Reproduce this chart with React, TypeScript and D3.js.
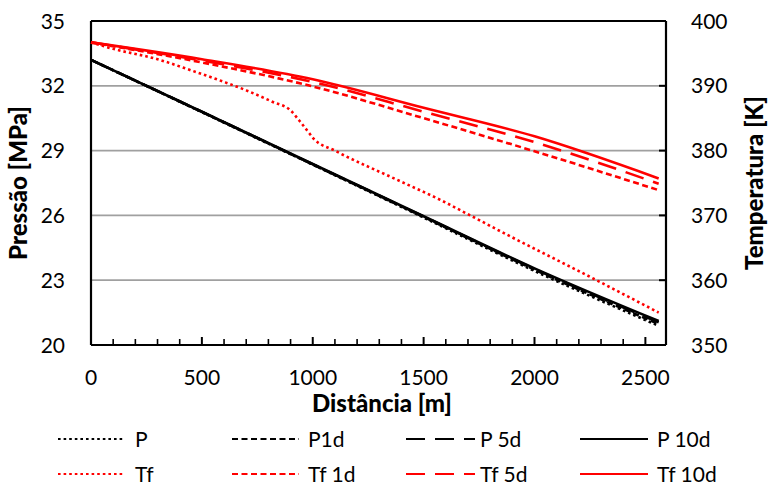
import React from "react";
import * as d3 from "d3";

const distance = [0, 500, 1000, 1500, 2000, 2560];
const pressureP = [33.2, 30.78, 28.35, 25.9, 23.43, 20.89];
const pressureP1d = [33.2, 30.79, 28.36, 25.93, 23.49, 20.97];
const pressureP5d = [33.2, 30.8, 28.37, 25.95, 23.52, 21.05];
const pressureP10d = [33.2, 30.8, 28.38, 25.96, 23.55, 21.11];

const tempTf1d = [396.7, 393.6, 389.9, 385.0, 379.9, 373.9];
const tempTf5d = [396.7, 393.9, 390.6, 386.0, 381.3, 374.9];
const tempTf10d = [396.7, 394.1, 391.0, 386.6, 382.2, 375.7];

const distanceTf = [0, 100, 300, 450, 600, 700, 820, 900, 940, 975, 1005, 1100, 1380, 1575, 1710, 1900, 2200, 2560];
const tempTf = [396.7, 395.7, 394.1, 392.4, 390.6, 389.3, 387.5, 386.2, 384.6, 383.1, 381.8, 380.0, 375.5, 372.4, 370.0, 366.6, 361.4, 355.0];

const xTicks = [0, 500, 1000, 1500, 2000, 2500];
const pTicks = [20, 23, 26, 29, 32, 35];
const tTicks = [350, 360, 370, 380, 390, 400];

const legendRows = [
  [
    { label: "P", color: "#000", dash: "2.6,3" },
    { label: "P1d", color: "#000", dash: "6,3.5" },
    { label: "P 5d", color: "#000", dash: "19,10" },
    { label: "P 10d", color: "#000", dash: "" },
  ],
  [
    { label: "Tf", color: "#ff0000", dash: "2.6,3" },
    { label: "Tf 1d", color: "#ff0000", dash: "6,3.5" },
    { label: "Tf 5d", color: "#ff0000", dash: "19,10" },
    { label: "Tf 10d", color: "#ff0000", dash: "" },
  ],
];

const W = 768;
const H = 485;
const L = 91;
const R = 666;
const T = 21;
const B = 345;
const FONT = "Lato, 'Open Sans', sans-serif";

export default function App() {
  const x = d3.scaleLinear().domain([0, 2593]).range([L, R]);
  const yP = d3.scaleLinear().domain([20, 35]).range([B, T]);
  const yT = d3.scaleLinear().domain([350, 400]).range([B, T]);

  const mkLine = (xs: number[], ys: number[], ys2: d3.ScaleLinear<number, number>) =>
    d3
      .line<number>()
      .x((_, i) => x(xs[i]))
      .y((v) => ys2(v))
      .curve(d3.curveMonotoneX)(ys) || "";

  const series = [
    { d: mkLine(distance, pressureP, yP), color: "#000", dash: "2.6,3" },
    { d: mkLine(distance, pressureP1d, yP), color: "#000", dash: "6,3.5" },
    { d: mkLine(distance, pressureP5d, yP), color: "#000", dash: "19,10" },
    { d: mkLine(distance, pressureP10d, yP), color: "#000", dash: "" },
    { d: mkLine(distanceTf, tempTf, yT), color: "#ff0000", dash: "2.6,3" },
    { d: mkLine(distance, tempTf1d, yT), color: "#ff0000", dash: "6,3.5" },
    { d: mkLine(distance, tempTf5d, yT), color: "#ff0000", dash: "19,10" },
    { d: mkLine(distance, tempTf10d, yT), color: "#ff0000", dash: "" },
  ];

  const minorTicks = d3.range(100, 2593, 100).filter((v) => v % 500 !== 0);

  const legendLineX = [
    [58, 124, 135],
    [232, 299, 308],
    [406, 475, 480],
    [580, 648, 657],
  ];
  const legendY = [439, 474];
  const legendBase = [446.5, 482];

  return (
    <svg
      width={W}
      height={H}
      style={{ position: "absolute", left: 0, top: 0, background: "#fff" }}
      fontFamily={FONT}
    >
      <rect x={0} y={0} width={W} height={H} fill="#fff" />
      {pTicks.slice(1, -1).map((v) => (
        <line key={"g" + v} x1={L} x2={R} y1={yP(v)} y2={yP(v)} stroke="#a0a0a0" strokeWidth={1.8} />
      ))}
      <line x1={L} x2={R} y1={T} y2={T} stroke="#000" strokeWidth={1.8} />
      <line x1={L} x2={L} y1={T} y2={B} stroke="#000" strokeWidth={2.2} />
      <line x1={R} x2={R} y1={T} y2={B} stroke="#000" strokeWidth={2.2} />
      {tTicks.map((v) => (
        <line key={"rt" + v} x1={R - 7} x2={R} y1={yT(v)} y2={yT(v)} stroke="#000" strokeWidth={2} />
      ))}
      {xTicks.map((v) => (
        <line key={"xt" + v} x1={x(v)} x2={x(v)} y1={B} y2={B - 8} stroke="#000" strokeWidth={2} />
      ))}
      {minorTicks.map((v) => (
        <line key={"xm" + v} x1={x(v)} x2={x(v)} y1={B} y2={B - 6} stroke="#000" strokeWidth={1.6} />
      ))}
      {series.map((s, i) => (
        <path
          key={"s" + i}
          d={s.d}
          fill="none"
          stroke={s.color}
          strokeWidth={2.6}
          strokeDasharray={s.dash || undefined}
        />
      ))}
      <line x1={L} x2={R} y1={B} y2={B} stroke="#000" strokeWidth={2.2} />
      {pTicks.map((v) => (
        <text key={"pl" + v} x={65} y={yP(v)} dy="0.36em" textAnchor="end" fontSize={21} fill="#000">
          {v}
        </text>
      ))}
      {tTicks.map((v) => (
        <text key={"tl" + v} x={691} y={yT(v)} dy="0.36em" textAnchor="start" fontSize={21} fill="#000">
          {v}
        </text>
      ))}
      {xTicks.map((v) => (
        <text key={"xl" + v} x={x(v)} y={385} textAnchor="middle" fontSize={21} fill="#000">
          {v}
        </text>
      ))}
      <text x={382} y={412} textAnchor="middle" fontSize={24} fontWeight="900" fill="#000">
        Distância [m]
      </text>
      <text
        transform={`translate(27,${(T + B) / 2}) rotate(-90)`}
        textAnchor="middle"
        fontSize={24}
        fontWeight="900"
        fill="#000"
      >
        Pressão [MPa]
      </text>
      <text
        transform={`translate(763,${(T + B) / 2}) rotate(-90)`}
        textAnchor="middle"
        fontSize={24}
        fontWeight="900"
        fill="#000"
      >
        Temperatura [K]
      </text>
      {legendRows.map((row, ri) =>
        row.map((item, ci) => (
          <g key={"lg" + ri + "-" + ci}>
            <line
              x1={legendLineX[ci][0]}
              x2={legendLineX[ci][1]}
              y1={legendY[ri]}
              y2={legendY[ri]}
              stroke={item.color}
              strokeWidth={2.2}
              strokeDasharray={item.dash || undefined}
            />
            <text x={legendLineX[ci][2]} y={legendBase[ri]} fontSize={21} fill="#000">
              {item.label}
            </text>
          </g>
        ))
      )}
    </svg>
  );
}
